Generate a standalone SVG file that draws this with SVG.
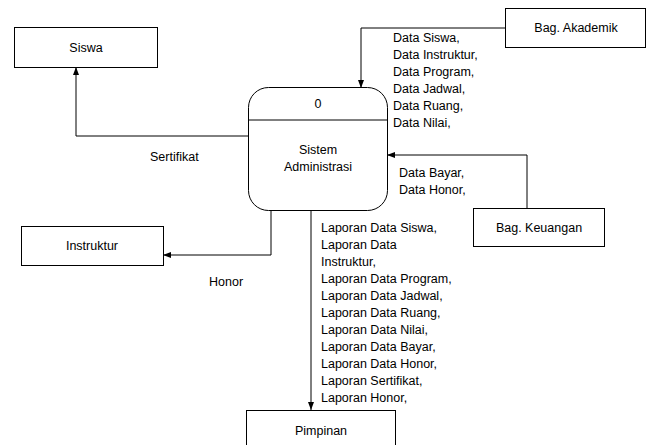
<svg xmlns="http://www.w3.org/2000/svg" width="652" height="445" viewBox="0 0 652 445">
<style>
  .box{fill:#fff;stroke:#000;stroke-width:1}
  .t{font-family:"Liberation Sans",Arial,sans-serif;font-size:12.5px;fill:#000}
  .c{text-anchor:middle}
  .ln{fill:none;stroke:#000;stroke-width:1}
</style>
<defs>
  <marker id="ah" viewBox="0 0 8 8" refX="8" refY="4" markerWidth="8" markerHeight="8" markerUnits="userSpaceOnUse" orient="auto">
    <path d="M0,1 L8,4 L0,7 Z" fill="#000"/>
  </marker>
</defs>
<rect width="652" height="445" fill="#fff"/>

<g id="connectors">
  <polyline class="ln" points="506,28 361,28 361,88" marker-end="url(#ah)"/>
  <polyline class="ln" points="248,136 76,136 76,67" marker-end="url(#ah)"/>
  <polyline class="ln" points="527,208 527,155 387,155" marker-end="url(#ah)"/>
  <polyline class="ln" points="271,210 271,255 163,255" marker-end="url(#ah)"/>
  <polyline class="ln" points="311,210 311,410" marker-end="url(#ah)"/>
</g>

<g id="labels">
  <text class="t" x="393"><tspan x="393" y="42">Data Siswa,</tspan><tspan x="393" y="59">Data Instruktur,</tspan><tspan x="393" y="76">Data Program,</tspan><tspan x="393" y="93">Data Jadwal,</tspan><tspan x="393" y="110">Data Ruang,</tspan><tspan x="393" y="127">Data Nilai,</tspan></text>
  <text class="t" x="150" y="161">Sertifikat</text>
  <text class="t"><tspan x="399" y="177">Data Bayar,</tspan><tspan x="399" y="194">Data Honor,</tspan></text>
  <text class="t" x="209" y="286">Honor</text>
  <text class="t"><tspan x="321" y="232">Laporan Data Siswa,</tspan><tspan x="321" y="249">Laporan Data</tspan><tspan x="321" y="266">Instruktur,</tspan><tspan x="321" y="283">Laporan Data Program,</tspan><tspan x="321" y="300">Laporan Data Jadwal,</tspan><tspan x="321" y="317">Laporan Data Ruang,</tspan><tspan x="321" y="334">Laporan Data Nilai,</tspan><tspan x="321" y="351">Laporan Data Bayar,</tspan><tspan x="321" y="368">Laporan Data Honor,</tspan><tspan x="321" y="385">Laporan Sertifikat,</tspan><tspan x="321" y="402">Laporan Honor,</tspan></text>
</g>

<g id="siswa">
  <rect class="box" x="14.5" y="27.5" width="143" height="40"/>
  <text class="t c" x="86" y="52">Siswa</text>
</g>
<g id="bag-akademik">
  <rect class="box" x="505.5" y="8.5" width="140" height="39"/>
  <text class="t c" x="576" y="32">Bag. Akademik</text>
</g>
<g id="sistem">
  <rect class="box" x="248.5" y="87.5" width="139" height="123" rx="20" ry="20"/>
  <line class="ln" x1="248.5" y1="120" x2="387.5" y2="120"/>
  <text class="t c" x="318" y="108">0</text>
  <text class="t c"><tspan x="318" y="154">Sistem</tspan><tspan x="318" y="171">Administrasi</tspan></text>
</g>
<g id="bag-keuangan">
  <rect class="box" x="473.5" y="208.5" width="131" height="38"/>
  <text class="t c" x="539" y="232">Bag. Keuangan</text>
</g>
<g id="instruktur">
  <rect class="box" x="21.5" y="226.5" width="142" height="39"/>
  <text class="t c" x="92" y="250">Instruktur</text>
</g>
<g id="pimpinan">
  <rect class="box" x="246.5" y="410.5" width="149" height="40"/>
  <text class="t c" x="321" y="435">Pimpinan</text>
</g>
</svg>
